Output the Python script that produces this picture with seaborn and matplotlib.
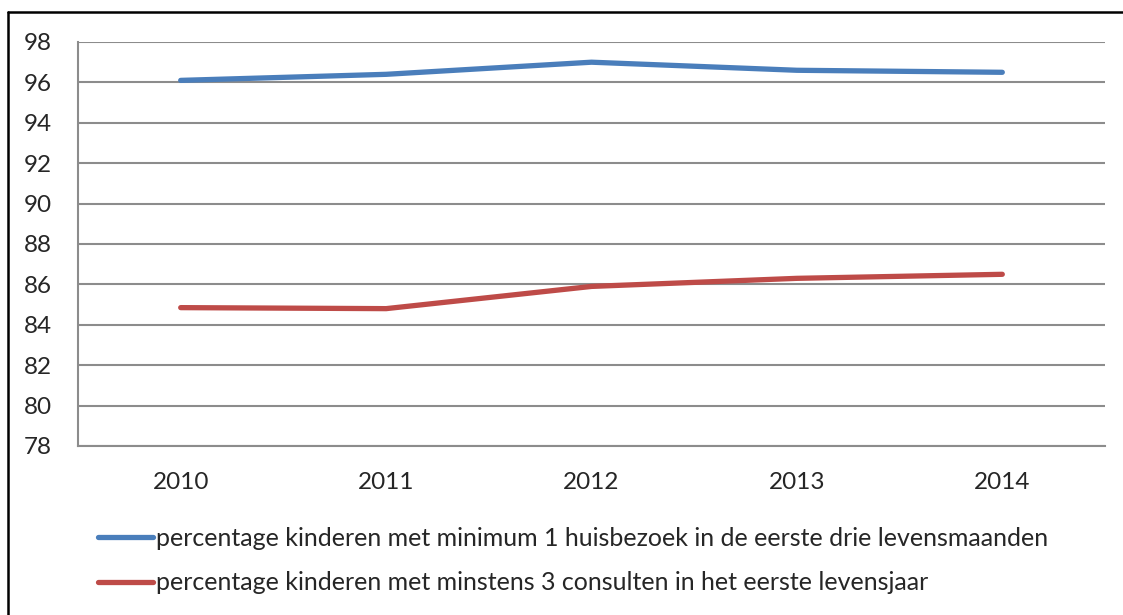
import matplotlib
matplotlib.use("Agg")
import matplotlib.pyplot as plt
from matplotlib.lines import Line2D
import seaborn as sns
import pandas as pd

years = ["2010", "2011", "2012", "2013", "2014"]
huisbezoek = [96.1, 96.4, 97.0, 96.6, 96.5]
consulten = [84.85, 84.8, 85.9, 86.3, 86.5]
labels = [
    "percentage kinderen met minimum 1 huisbezoek in de eerste drie levensmaanden",
    "percentage kinderen met minstens 3 consulten in het eerste levensjaar",
]
colors = ["#4A7EBB", "#BE4B48"]
y_ticks = list(range(78, 100, 2))

df = pd.DataFrame({
    "jaar": years * 2,
    "waarde": huisbezoek + consulten,
    "reeks": [labels[0]] * len(years) + [labels[1]] * len(years),
})

sns.set_style("white")
plt.rcParams["font.family"] = ["Lato", "DejaVu Sans"]

W, H = 1123, 615
fig = plt.figure(figsize=(W / 100, H / 100), dpi=100)
ax = fig.add_axes([78 / W, 1 - 446 / H, (1105 - 78) / W, (446 - 42) / H])

sns.lineplot(data=df, x="jaar", y="waarde", hue="reeks", palette=colors,
             linewidth=3.8, ax=ax, legend=False, sort=False,
             solid_capstyle="round", solid_joinstyle="round")

grid_c = "#8C8C8C"
fs = 17.5
ax.set_ylim(78, 98)
ax.set_xlim(-0.5, len(years) - 0.5)
ax.set_yticks(y_ticks)
ax.set_yticklabels([str(v) for v in y_ticks], fontsize=fs)
ax.set_xticks(range(len(years)))
ax.set_xticklabels(years, fontsize=fs)
ax.set_xticks([i - 0.5 for i in range(len(years) + 1)], minor=True)
ax.tick_params(axis="x", which="major", length=0, pad=19)
ax.tick_params(axis="x", which="minor", length=7, width=1.5, color=grid_c, direction="out")
ax.tick_params(axis="y", length=8, width=1.5, color=grid_c, direction="out", pad=11)
ax.grid(axis="y", color=grid_c, linewidth=1.5)
ax.set_axisbelow(True)
for side in ["top", "right"]:
    ax.spines[side].set_visible(False)
for side in ["left", "bottom"]:
    ax.spines[side].set_color(grid_c)
    ax.spines[side].set_linewidth(1.5)
ax.set_xlabel("")
ax.set_ylabel("")

handles = [Line2D([0], [0], color=c, linewidth=3.8, solid_capstyle="round") for c in colors]
fig.legend(handles, labels, loc="upper left", bbox_to_anchor=(98 / W, 1 - 527 / H),
           frameon=False, fontsize=18, handlelength=2.2, handletextpad=0.1,
           labelspacing=0.85, borderaxespad=0, borderpad=0)

# outer frame (top and left edge)
fig.add_artist(Line2D([8 / W, 8 / W], [0, 1 - 12 / H], color="black", linewidth=1.8))
fig.add_artist(Line2D([8 / W, 1], [1 - 12 / H, 1 - 12 / H], color="black", linewidth=1.8))

fig.savefig("out.png", dpi=100)
